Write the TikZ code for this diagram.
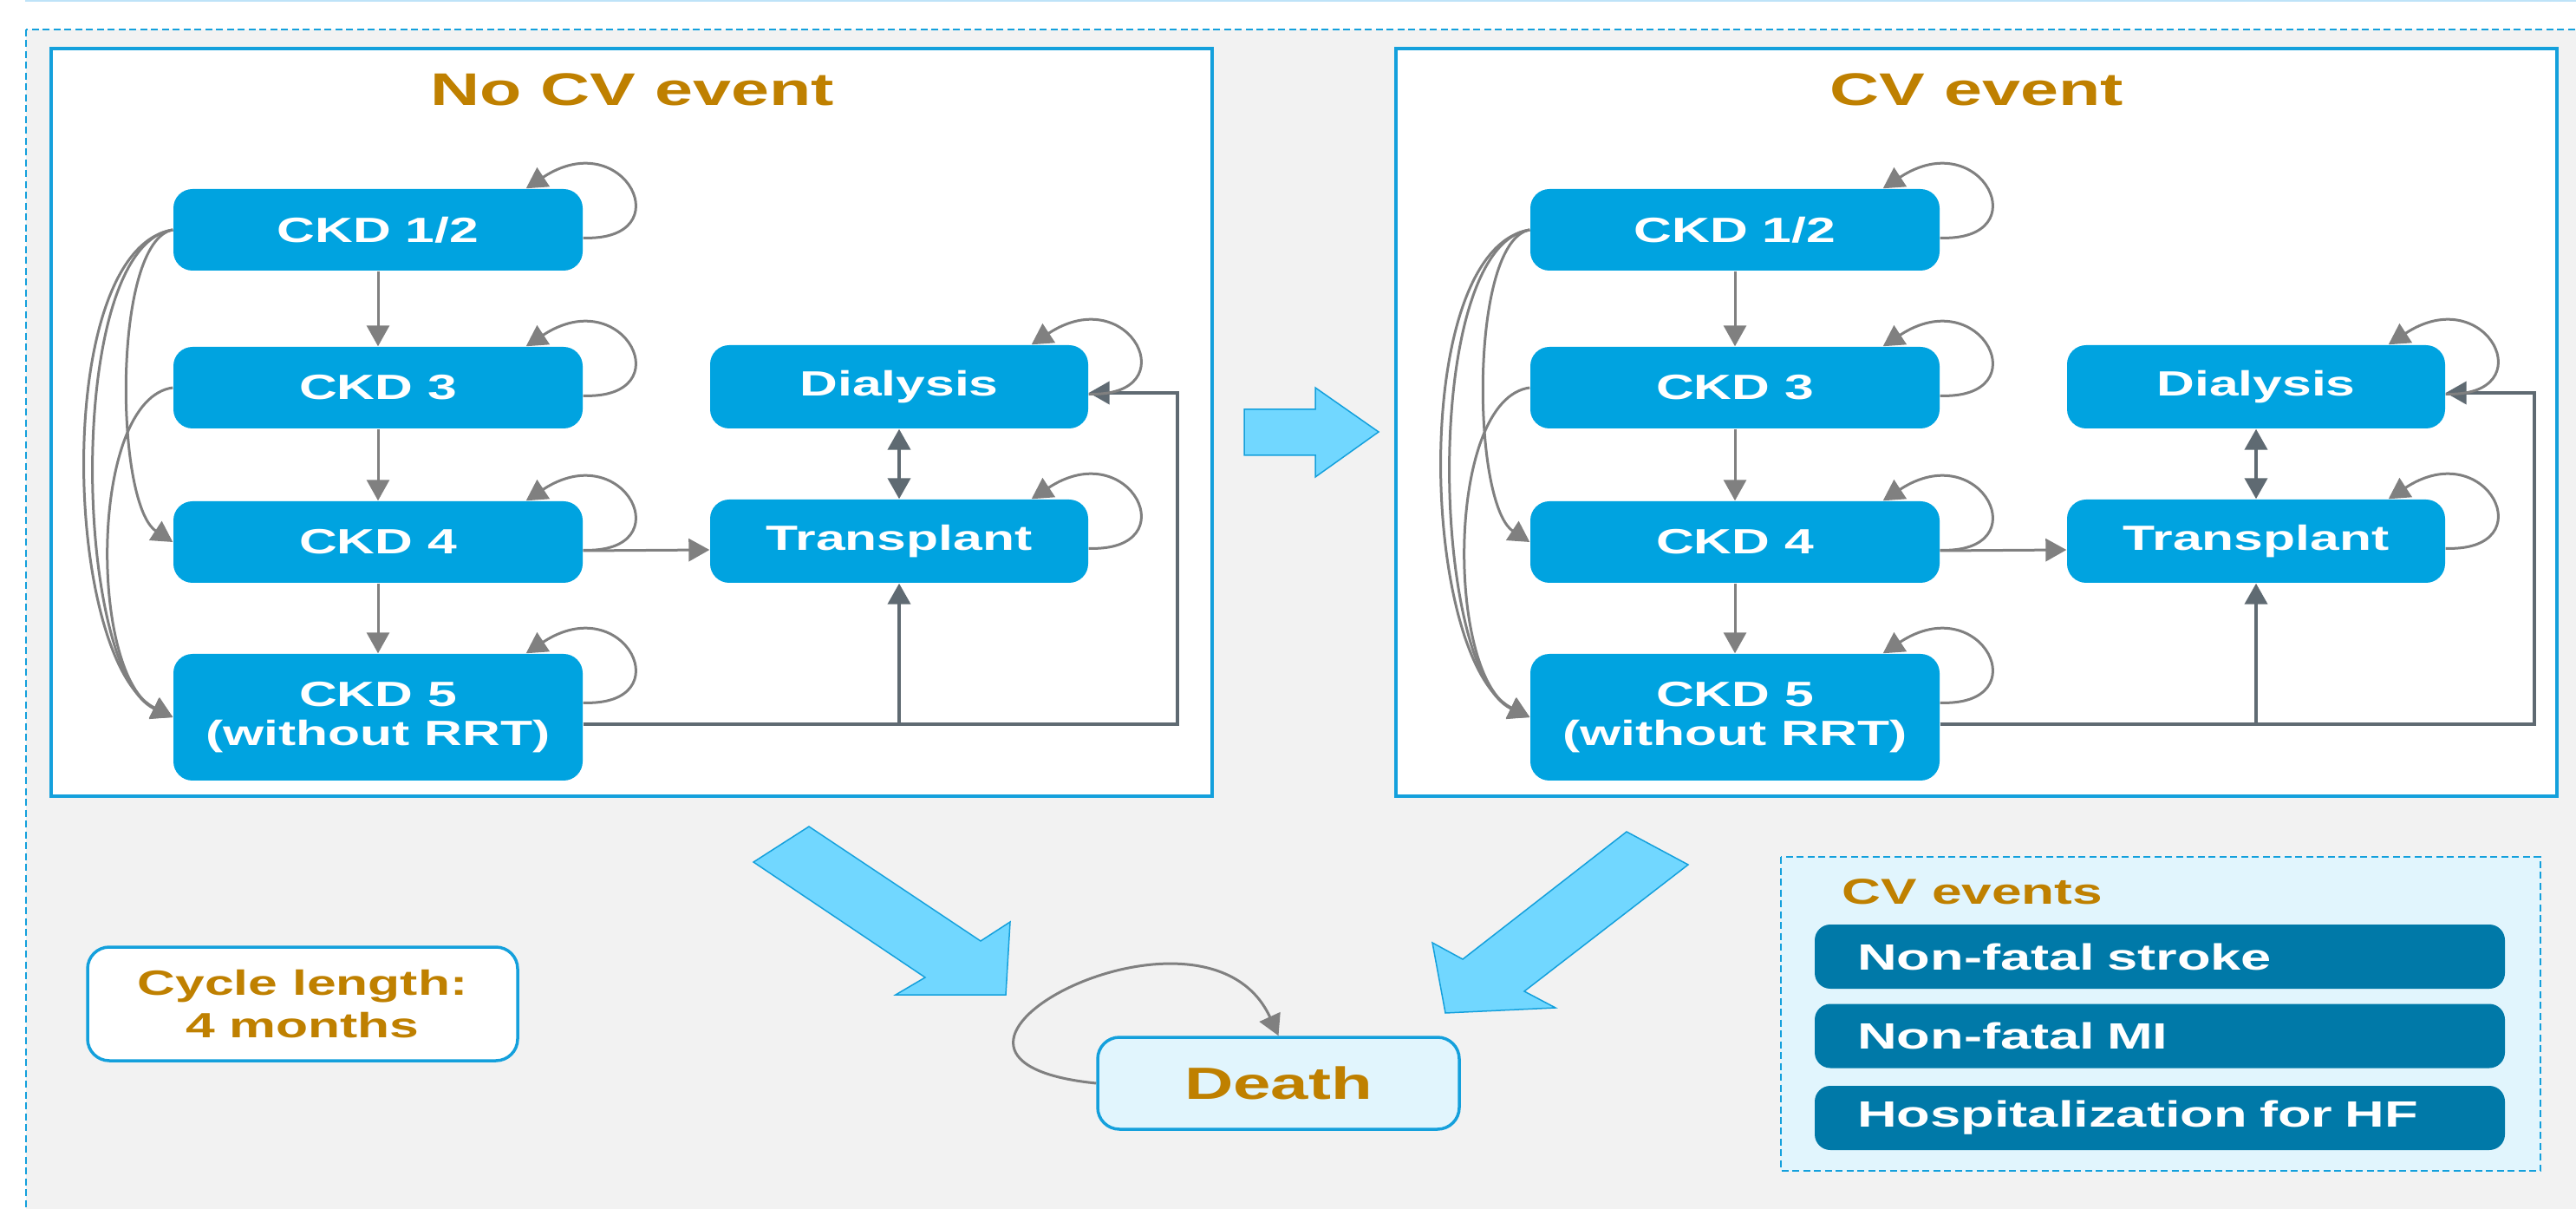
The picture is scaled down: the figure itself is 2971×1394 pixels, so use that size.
\documentclass[tikz,border=0pt]{standalone}
\usepackage{fontspec}
\newfontfamily\wide{Liberation Sans}[FakeStretch=1.5]
\usetikzlibrary{arrows.meta,positioning}
\definecolor{nodeblue}{RGB}{0,163,224}
\definecolor{panelblue}{RGB}{20,160,220}
\definecolor{gold}{RGB}{191,128,0}
\definecolor{barblue}{RGB}{0,121,168}
\definecolor{paleblue}{RGB}{225,245,253}
\definecolor{arrowfill}{RGB}{113,215,255}
\definecolor{bggray}{RGB}{242,242,242}
\definecolor{linegray}{RGB}{128,128,128}
\definecolor{slate}{RGB}{95,106,114}
\definecolor{topline}{RGB}{190,227,248}

\tikzset{
  ckdbox/.style={rectangle, rounded corners=2.2mm, fill=nodeblue, text=white,
    font=\wide\bfseries\fontsize{11.5}{12.8}\selectfont, align=center,
    minimum width=47.2mm, minimum height=9.4mm, inner sep=0pt},
  sidebox/.style={ckdbox, minimum width=43.6mm, minimum height=9.6mm},
  conn/.style={draw=linegray, line width=0.3mm, -{Triangle[length=2.4mm,width=2.6mm]}},
  darkconn/.style={conn, draw=slate, line width=0.4mm},
  paneltitle/.style={text=gold, font=\wide\bfseries\fontsize{15}{18}\selectfont},
  bigarrow/.style={fill=arrowfill, draw=panelblue, line width=0.15mm},
  eventbar/.style={rectangle, rounded corners=1.8mm, fill=barblue, text=white,
    font=\wide\bfseries\fontsize{12}{14}\selectfont, align=left,
    text width=69.8mm, inner xsep=4.9mm, inner ysep=0pt, minimum height=7.4mm}
}

\begin{document}
\begin{tikzpicture}[x=0.1mm, y=-0.1mm] % 1 unit = 1 pixel of the layout

\useasboundingbox (0,0) rectangle (2971,1394);
\clip (0,0) rectangle (2971,1394);

% Hintergrund
\fill[white] (0,0) rectangle (2971,1394);
\draw[topline, line width=0.25mm] (29,1) -- (2971,1);
\draw[panelblue, fill=bggray, line width=0.2mm, dash pattern=on 0.8mm off 0.45mm] (30,34) rectangle (3010,1430);

% zwei Teilmodelle
\foreach \p/\dx/\pl/\ttl in {a/0/59/No CV event, b/156.5/45/CV event} {
\begin{scope}[xshift=\dx mm]
  \draw[panelblue, fill=white, line width=0.4mm] (\pl,56) rectangle ++(1339,862);
  \node[paneltitle] (\p-title) at (\pl+670,103) {\ttl};

  \node[ckdbox] (\p-ckd12) at (436,265) {CKD 1/2};
  \node[ckdbox] (\p-ckd3) at (436,447) {CKD 3};
  \node[ckdbox] (\p-ckd4) at (436,625) {CKD 4};
  \node[ckdbox, minimum height=14.6mm] (\p-ckd5) at (436,827) {CKD 5\\(without RRT)};
  \node[sidebox] (\p-dial) at (1037,446) {Dialysis};
  \node[sidebox] (\p-trans) at (1037,624) {Transplant};

  % Uebergaenge
  \draw[conn] (\p-ckd12) -- (\p-ckd3);
  \draw[conn] (\p-ckd3) -- (\p-ckd4);
  \draw[conn] (\p-ckd4) -- (\p-ckd5);
  \draw[conn] ([yshift=-1mm]\p-ckd4.east) -- ([yshift=-1mm]\p-trans.west);
  \draw[darkconn, {Triangle[length=2.4mm,width=2.6mm]}-{Triangle[length=2.4mm,width=2.6mm]}] (\p-dial) -- (\p-trans);
  \draw[darkconn] ([yshift=-0.8mm]\p-ckd5.east) -| (\p-trans);
  \draw[darkconn] ([yshift=-0.8mm]\p-ckd5.east) -| ([xshift=10.2mm,yshift=-0.7mm]\p-dial.east) -- ([yshift=-0.7mm]\p-dial.east);

  % Spruenge links
  \draw[conn] (\p-ckd12.west) .. controls +(-14mm,-2.3mm) and +(-12.7mm,6.5mm) .. (\p-ckd5.west);
  \draw[conn] (\p-ckd12.west) .. controls +(-12.5mm,-1.8mm) and +(-11.5mm,5.3mm) .. (\p-ckd5.west);
  \draw[conn] (\p-ckd12.west) .. controls +(-7mm,-1.3mm) and +(-6.7mm,4.4mm) .. (\p-ckd4.west);
  \draw[conn] (\p-ckd3.west) .. controls +(-9.7mm,-1.3mm) and +(-9.7mm,4.7mm) .. (\p-ckd5.west);

  % Verbleib im Zustand
  \foreach \n in {ckd12, ckd3, ckd4, ckd5, dial, trans}
    \draw[conn] ([yshift=-5.7mm]\p-\n.north east) .. controls +(11.5mm,-0.4mm) and +(11.4mm,7.5mm) .. ([xshift=-6.6mm]\p-\n.north east);
\end{scope}
}

% Blockpfeile
\draw[bigarrow] (1435,472) -- (1517,472) -- (1517,447) -- (1590,498) -- (1517,550) -- (1517,525) -- (1435,525) -- cycle;
\draw[bigarrow] (933,953) -- (1131,1085) -- (1165,1063) -- (1160,1147) -- (1033,1147) -- (1067,1127) -- (869,994) -- cycle;
\draw[bigarrow] (1876,959) -- (1947,997) -- (1758,1143) -- (1794,1162) -- (1667,1168) -- (1652,1087) -- (1687,1106) -- cycle;

% Tod
\node[rectangle, rounded corners=2.5mm, fill=paleblue, draw=panelblue, line width=0.35mm,
  minimum width=41.7mm, minimum height=10.6mm, text=gold,
  font=\wide\bfseries\fontsize{14.8}{16}\selectfont] (death) at (1474.5,1249) {Death};
\draw[conn] (death.west) .. controls +(-27.6mm,2.8mm) and +(-8.5mm,18.6mm) .. (death.north);

% Zykluslaenge
\node[rectangle, rounded corners=2.5mm, fill=white, draw=panelblue, line width=0.35mm,
  minimum width=49.6mm, minimum height=13.1mm, align=center, text=gold,
  font=\wide\bfseries\fontsize{11.5}{13.7}\selectfont] (cycle) at (349,1157.5) {Cycle length:\\4 months};

% CV-Ereignisse
\draw[panelblue, fill=paleblue, line width=0.15mm, dash pattern=on 0.8mm off 0.45mm] (2054,988) rectangle (2930,1350);
\node[anchor=base west, text=gold, font=\wide\bfseries\fontsize{11.8}{14}\selectfont] (evtitle) at (2112,1042) {CV events};
\foreach \y/\txt [count=\i] in {1103/Non-fatal stroke, 1194.5/Non-fatal MI, 1289/Hospitalization for HF}
  \node[eventbar] (bar\i) at (2491,\y) {\txt};

\end{tikzpicture}
\end{document}
